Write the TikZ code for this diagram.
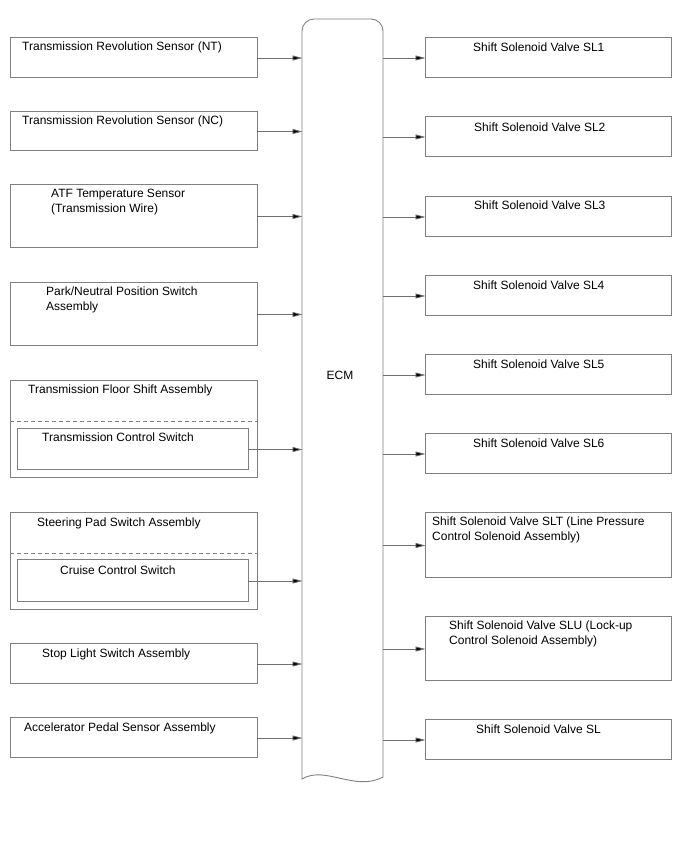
\documentclass[tikz,border=0pt]{standalone}
\usepackage{fontspec}
\setmainfont{Liberation Sans}
\usetikzlibrary{arrows.meta}
\definecolor{boxgray}{HTML}{808080}
\definecolor{arrgray}{HTML}{707070}
\tikzset{
  box/.style={draw=boxgray, line width=0.8pt, inner sep=0pt, outer sep=0pt, anchor=north west},
  lbl/.style={anchor=base west, inner sep=0pt, font=\fontsize{12}{15}\selectfont},
  arr/.style={draw=arrgray, line width=0.8pt, -{Triangle[length=10pt,width=5pt,fill=black]}, shorten >=-0.5pt},
  dsh/.style={draw=boxgray, line width=0.8pt, dash pattern=on 4pt off 3pt},
  ecmshape/.style={draw=boxgray, line width=0.9pt}
}
\begin{document}
\begin{tikzpicture}[x=1pt,y=-1pt]
\useasboundingbox (0,0) rectangle (688,852);
% ECM
\draw[ecmshape] (302,779) [rounded corners=12pt] -- (302,19) -- (383,19) [sharp corners] -- (383,777)
  .. controls (355,792) and (325,765) .. (302,779) -- cycle;
\node[lbl, anchor=center] (ecm) at (340,375) {ECM};
\coordinate (ecmL) at (302,400);
\coordinate (ecmR) at (383,400);
% Left boxes
\node[box, minimum width=247pt, minimum height=40pt] (nt) at (10,37) {};
\node[lbl] (ntt) at (22,50) {Transmission Revolution Sensor (NT)};
\node[box, minimum width=247pt, minimum height=39pt] (nc) at (10,111) {};
\node[lbl] (nct) at (22,124) {Transmission Revolution Sensor (NC)};
\node[box, minimum width=247pt, minimum height=63pt] (atf) at (10,184) {};
\node[lbl] (atft) at (51,197) {\begin{tabular}[t]{@{}l@{}}ATF Temperature Sensor\\(Transmission Wire)\end{tabular}};
\node[box, minimum width=247pt, minimum height=63pt] (pnp) at (10,282) {};
\node[lbl] (pnpt) at (46,295) {\begin{tabular}[t]{@{}l@{}}Park/Neutral Position Switch\\Assembly\end{tabular}};
\node[box, minimum width=247pt, minimum height=97pt] (fl) at (10,380) {};
\node[lbl] (flt) at (28,393) {Transmission Floor Shift Assembly};
\draw[dsh] ([yshift=-41pt]fl.north west) -- ([yshift=-41pt]fl.north east);
\node[box, minimum width=231pt, minimum height=41pt] (tcs) at (17,428) {};
\node[lbl] (tcst) at (42,441) {Transmission Control Switch};
\node[box, minimum width=247pt, minimum height=97pt] (sp) at (10,512) {};
\node[lbl] (spt) at (37,526) {Steering Pad Switch Assembly};
\draw[dsh] ([yshift=-41pt]sp.north west) -- ([yshift=-41pt]sp.north east);
\node[box, minimum width=231pt, minimum height=42pt] (ccs) at (17,559) {};
\node[lbl] (ccst) at (60,574) {Cruise Control Switch};
\node[box, minimum width=247pt, minimum height=40pt] (stp) at (10,643) {};
\node[lbl] (stpt) at (42,657) {Stop Light Switch Assembly};
\node[box, minimum width=247pt, minimum height=40pt] (acc) at (10,717) {};
\node[lbl] (acct) at (24,731) {Accelerator Pedal Sensor Assembly};
% Right boxes
\node[box, minimum width=246pt, minimum height=40pt] (s1) at (425,37) {};
\node[lbl] (s1t) at (473,51) {Shift Solenoid Valve SL1};
\node[box, minimum width=246pt, minimum height=40pt] (s2) at (425,116) {};
\node[lbl] (s2t) at (474,131) {Shift Solenoid Valve SL2};
\node[box, minimum width=246pt, minimum height=40pt] (s3) at (425,196) {};
\node[lbl] (s3t) at (474,209) {Shift Solenoid Valve SL3};
\node[box, minimum width=246pt, minimum height=40pt] (s4) at (425,275) {};
\node[lbl] (s4t) at (473,289) {Shift Solenoid Valve SL4};
\node[box, minimum width=246pt, minimum height=40pt] (s5) at (425,354) {};
\node[lbl] (s5t) at (473,368) {Shift Solenoid Valve SL5};
\node[box, minimum width=246pt, minimum height=40pt] (s6) at (425,433) {};
\node[lbl] (s6t) at (473,447) {Shift Solenoid Valve SL6};
\node[box, minimum width=246pt, minimum height=65pt] (slt) at (425,512) {};
\node[lbl] (sltt) at (432,525) {\begin{tabular}[t]{@{}l@{}}Shift Solenoid Valve SLT (Line Pressure\\Control Solenoid Assembly)\end{tabular}};
\node[box, minimum width=246pt, minimum height=64pt] (slu) at (425,616) {};
\node[lbl] (slut) at (449,629) {\begin{tabular}[t]{@{}l@{}}Shift Solenoid Valve SLU (Lock-up\\Control Solenoid Assembly)\end{tabular}};
\node[box, minimum width=246pt, minimum height=40pt] (sl) at (425,719) {};
\node[lbl] (slt2) at (476,733) {Shift Solenoid Valve SL};
% Input arrows
\foreach \n in {nt,nc,atf,pnp,tcs,ccs,stp,acc}
  \draw[arr] ([yshift=-1pt]\n.east) -- ([yshift=-1pt]\n.east -| ecmL);
% Output arrows
\foreach \n in {s1,s2,s3,s4,s5,s6,slt,slu,sl}
  \draw[arr] ([yshift=-1pt]\n.west -| ecmR) -- ([yshift=-1pt]\n.west);
\end{tikzpicture}
\end{document}
